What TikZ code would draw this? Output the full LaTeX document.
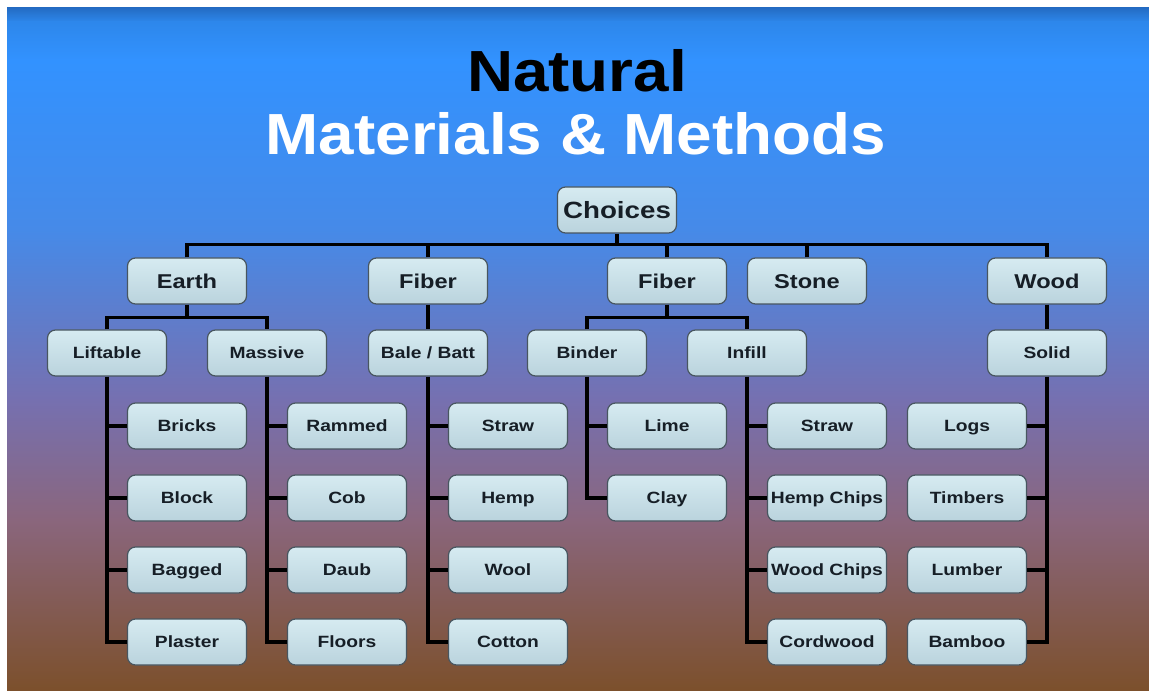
\documentclass[tikz,border=0pt]{standalone}
\usepackage{fontspec}
\setmainfont{Liberation Sans}[FakeStretch=1.18]
\newfontfamily\titlefont{Liberation Sans}[FakeStretch=1.1]
\definecolor{boxfill}{RGB}{214,235,241}
\definecolor{boxshade}{RGB}{186,211,221}
\definecolor{boxline}{RGB}{72,86,96}
\definecolor{boxtext}{RGB}{22,30,38}
\definecolor{skyA}{RGB}{36,108,196}
\definecolor{skyB}{RGB}{45,135,235}
\definecolor{skyC}{RGB}{50,146,255}
\definecolor{skyD}{RGB}{70,138,232}
\definecolor{dusk}{RGB}{118,112,176}
\definecolor{mauve}{RGB}{138,102,125}
\definecolor{clay}{RGB}{124,80,44}
\tikzset{
    box/.style={draw=boxline, line width=1.2pt, rounded corners=8pt,
                top color=boxfill, bottom color=boxshade, text=boxtext,
                minimum width=119pt, minimum height=46pt, inner sep=1pt,
                text height=11.7pt, text depth=0pt,
                font=\bfseries\fontsize{16.3}{18}\selectfont},
    group/.style={box, text height=14.3pt,
                  font=\bfseries\fontsize{20}{22}\selectfont},
    root/.style={box, text height=16.8pt,
                 font=\bfseries\fontsize{23.5}{25}\selectfont},
    link/.style={line width=3.2pt, black},
    band/.style={draw=none},
}

\begin{document}
\begin{tikzpicture}[x=1pt, y=-1pt]

    % slide background
    \useasboundingbox (0,0) rectangle (1149,692);
    \fill[white] (0,0) rectangle (1149,692);
    \shade[band, top color=skyA, bottom color=skyB] (7,8) rectangle (1149,22);
    \shade[band, top color=skyB, bottom color=skyC] (7,21.5) rectangle (1149,60);
    \shade[band, top color=skyC, bottom color=skyD] (7,59.5) rectangle (1149,230);
    \shade[band, top color=skyD, bottom color=dusk] (7,229.5) rectangle (1149,400);
    \shade[band, top color=dusk, bottom color=mauve] (7,399.5) rectangle (1149,520);
    \shade[band, top color=mauve, bottom color=clay] (7,519.5) rectangle (1149,690);

    % title
    \node[anchor=base, font=\titlefont\bfseries\fontsize{58}{60}\selectfont]
        (natural) at (577,92) {Natural};
    \node[anchor=base, text=white, font=\titlefont\bfseries\fontsize{58}{60}\selectfont]
        (methods) at (576,155) {Materials \& Methods};

    % top levels
    \node[root] (choices) at (617,210) {Choices};
    \node[group] (earth) at (187,281) {Earth};
    \node[group] (fiberA) at (428,281) {Fiber};
    \node[group] (fiberB) at (667,281) {Fiber};
    \node[group] (stone) at (807,281) {Stone};
    \node[group] (wood) at (1047,281) {Wood};

    \node[box] (liftable) at (107,353) {Liftable};
    \node[box] (massive) at (267,353) {Massive};
    \node[box] (bale) at (428,353) {Bale / Batt};
    \node[box] (binder) at (587,353) {Binder};
    \node[box] (infill) at (747,353) {Infill};
    \node[box] (solid) at (1047,353) {Solid};

    % leaves
    \node[box] (bricks) at (187,426) {Bricks};
    \node[box] (block) at (187,498) {Block};
    \node[box] (bagged) at (187,570) {Bagged};
    \node[box] (plaster) at (187,642) {Plaster};

    \node[box] (rammed) at (347,426) {Rammed};
    \node[box] (cob) at (347,498) {Cob};
    \node[box] (daub) at (347,570) {Daub};
    \node[box] (floors) at (347,642) {Floors};

    \node[box] (straw) at (508,426) {Straw};
    \node[box] (hemp) at (508,498) {Hemp};
    \node[box] (wool) at (508,570) {Wool};
    \node[box] (cotton) at (508,642) {Cotton};

    \node[box] (lime) at (667,426) {Lime};
    \node[box] (clay) at (667,498) {Clay};

    \node[box] (strawfill) at (827,426) {Straw};
    \node[box] (hempchips) at (827,498) {Hemp Chips};
    \node[box] (woodchips) at (827,570) {Wood Chips};
    \node[box] (cordwood) at (827,642) {Cordwood};

    \node[box] (logs) at (967,426) {Logs};
    \node[box] (timbers) at (967,498) {Timbers};
    \node[box] (lumber) at (967,570) {Lumber};
    \node[box] (bamboo) at (967,642) {Bamboo};

    % connectors
    \draw[link] (choices.south) -- ++(0,11);
    \draw[link] (earth.north) -- ++(0,-13) -| (wood.north);
    \foreach \n in {fiberA,fiberB,stone}
        \draw[link] (\n.north) -- ++(0,-13);

    \draw[link] (earth.south) -- ++(0,14);
    \draw[link] (liftable.north) -- ++(0,-12) -| (massive.north);
    \draw[link] (fiberA.south) -- (bale.north);
    \draw[link] (fiberB.south) -- ++(0,14);
    \draw[link] (binder.north) -- ++(0,-12) -| (infill.north);
    \draw[link] (wood.south) -- (solid.north);

    \draw[link] (liftable.south) |- (plaster.west);
    \foreach \n in {bricks,block,bagged}
        \draw[link] (\n.west) -- (\n.west -| liftable.south);
    \draw[link] (massive.south) |- (floors.west);
    \foreach \n in {rammed,cob,daub}
        \draw[link] (\n.west) -- (\n.west -| massive.south);
    \draw[link] (bale.south) |- (cotton.west);
    \foreach \n in {straw,hemp,wool}
        \draw[link] (\n.west) -- (\n.west -| bale.south);
    \draw[link] (binder.south) |- (clay.west);
    \draw[link] (lime.west) -- (lime.west -| binder.south);
    \draw[link] (infill.south) |- (cordwood.west);
    \foreach \n in {strawfill,hempchips,woodchips}
        \draw[link] (\n.west) -- (\n.west -| infill.south);
    \draw[link] (solid.south) |- (bamboo.east);
    \foreach \n in {logs,timbers,lumber}
        \draw[link] (\n.east) -- (\n.east -| solid.south);

\end{tikzpicture}
\end{document}
